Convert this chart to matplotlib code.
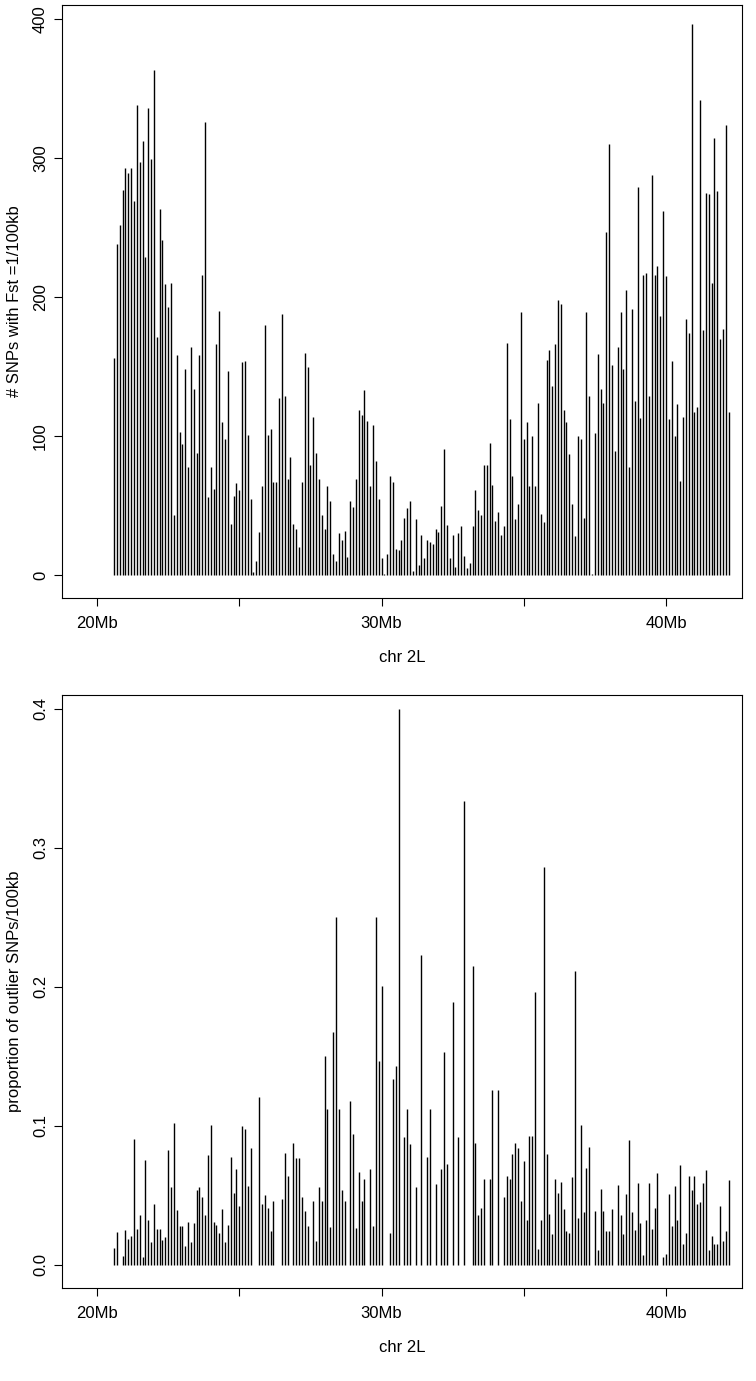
import numpy as np
import matplotlib
matplotlib.use("Agg")
import matplotlib.pyplot as plt

plt.rcParams['font.family'] = ['Liberation Sans', 'DejaVu Sans']

# bin start positions (Mb), 100kb bins along chr 2L
start_mb = 20.6
n_bins = 217

# top panel: number of SNPs with Fst = 1 per 100kb
snp_count = [
    156, 238, 252, 277, 293, 289, 293, 269, 338, 297, 312, 229, 336, 299, 363, 171, 263, 241, 209, 193,
    210, 43, 158, 103, 94, 148, 78, 164, 134, 88, 158, 216, 326, 56,
    78, 62, 166, 190, 110, 98, 147, 37, 57, 66, 61, 153, 154, 101, 55, 2, 10, 31, 64, 180,
    101, 105, 67, 67, 127, 188, 129, 69, 85, 37, 33, 20, 67, 160, 150, 79, 114,
    88, 69, 43, 33, 64, 53, 15, 10, 30, 25, 32, 13, 53, 49, 69, 119, 115, 133, 111,
    64, 108, 82, 55, 12, 1, 15, 71, 67, 19, 18, 25, 41, 48, 53, 3, 40, 7,
    29, 12, 25, 24, 22, 33, 31, 50, 91, 36, 12, 29, 6, 30, 35, 14, 5, 9, 35, 61,
    47, 43, 79, 79, 95, 65, 39, 45, 29, 35, 167, 112, 71, 40, 51, 189, 98,
    110, 64, 100, 64, 124, 44, 38, 155, 162, 136, 166, 198, 195, 119, 110, 87, 51, 28, 100, 98,
    41, 189, 129, 1, 102, 159, 134, 124, 247, 310, 151, 89, 164, 189, 148, 205, 78,
    191, 125, 279, 113, 216, 217, 129, 288, 216, 222, 186, 262, 215, 112, 154, 100, 123, 68, 114, 184,
    174, 396, 117, 121, 342, 176, 275, 274, 210, 314, 276, 170, 177, 324, 117,
]

# bottom panel: proportion of outlier SNPs per 100kb (nan = no bar)
nan = np.nan
outlier_prop = [
    0.012, 0.024, nan, 0.0066, 0.025, 0.019, 0.021, 0.0906, 0.026, 0.036,
    0.0055, 0.0755, 0.032, 0.0166, 0.0436, 0.026, 0.026, 0.0177, 0.020, 0.083,
    0.056, 0.102, 0.0396, 0.028, 0.028, 0.0135, 0.031, 0.0166, 0.030, 0.054,
    0.056, 0.049, 0.036, 0.079, 0.101, 0.031, 0.029, 0.0227, 0.040, 0.0166,
    0.029, 0.078, 0.052, 0.069, 0.0425, 0.0998, 0.098, 0.057, 0.084, nan,
    nan, 0.1206, 0.044, 0.050, 0.041, 0.0246, 0.046, nan, nan, 0.0475,
    0.0805, 0.064, nan, 0.088, 0.077, 0.077, 0.049, 0.0388, 0.0277, nan,
    0.046, 0.0172, 0.056, 0.046, 0.150, 0.112, 0.027, 0.1676, 0.250, 0.112,
    0.054, 0.046, nan, 0.118, 0.0945, 0.0264, 0.067, 0.046, 0.062, nan,
    0.069, 0.028, 0.250, 0.147, 0.201, nan, nan, 0.0227, 0.134, 0.143,
    0.400, nan, 0.092, 0.112, 0.087, nan, 0.056, nan, 0.223, nan,
    0.078, 0.112, nan, 0.058, nan, 0.069, 0.153, 0.0726, nan, 0.189,
    nan, 0.092, nan, 0.334, nan, nan, 0.215, 0.088, 0.0356, 0.041,
    0.062, nan, 0.062, 0.126, nan, 0.126, nan, 0.049, 0.064, 0.062,
    0.0795, 0.088, 0.084, 0.0457, 0.075, 0.0325, 0.093, 0.093, 0.196, 0.0114,
    0.032, 0.2865, 0.0795, 0.0364, 0.0224, 0.0615, 0.052, 0.0597, 0.040, 0.0246,
    0.0227, 0.0636, 0.2115, 0.0335, 0.101, 0.0378, 0.0694, 0.085, nan, 0.0388,
    0.0108, 0.0546, 0.0388, 0.0246, 0.0246, 0.040, nan, 0.0573, 0.0356, 0.022,
    0.051, 0.09, 0.0378, 0.0253, 0.059, 0.030, 0.0069, 0.032, 0.059, 0.026,
    0.041, 0.066, nan, 0.006, 0.008, 0.051, 0.0277, 0.0568, 0.032, 0.072,
    0.0153, 0.0227, 0.064, 0.0536, 0.064, 0.0436, 0.045, 0.059, 0.0686, 0.0108,
    0.021, 0.0153, 0.0153, 0.0425, 0.0172, 0.0246, 0.061,
]

xticks = [20, 25, 30, 35, 40]
xticklabels = ["20Mb", "", "30Mb", "", "40Mb"]
top_yticks = [0, 100, 200, 300, 400]
bottom_yticks = [0.0, 0.1, 0.2, 0.3, 0.4]

pos = start_mb + 0.1 * np.arange(n_bins)

W, H = 756, 1381
fig = plt.figure(figsize=(W / 100, H / 100), dpi=100)


def panel(top_px, values, yticks, ylabels, ylab, ylim):
    left, right = 62, 742
    bottom = top_px + 593
    ax = fig.add_axes([left / W, 1 - bottom / H, (right - left) / W, 593 / H])
    vals = np.asarray(values, dtype=float)
    ok = ~np.isnan(vals)
    ax.vlines(pos[ok], 0, vals[ok], color='black', linewidth=1.0)
    ax.set_xlim(18.77, 42.67)
    ax.set_ylim(*ylim)
    ax.set_xticks(xticks)
    ax.set_xticklabels(xticklabels)
    ax.set_yticks(yticks)
    ax.set_yticklabels(ylabels, rotation=90, va='center')
    ax.tick_params(direction='out', length=6, width=0.8, labelsize=12)
    ax.tick_params(axis='x', pad=7)
    ax.tick_params(axis='y', pad=4)
    for s in ax.spines.values():
        s.set_linewidth(0.8)
    ax.set_xlabel("chr 2L", fontsize=12, labelpad=14)
    ax.set_ylabel(ylab, fontsize=12, labelpad=8)
    return ax


panel(5, snp_count, top_yticks, ["0", "100", "200", "300", "400"],
      "# SNPs with Fst =1/100kb", (-16.5, 410))
panel(695, outlier_prop, bottom_yticks, ["0.0", "0.1", "0.2", "0.3", "0.4"],
      "proportion of outlier SNPs/100kb", (-0.0166, 0.41))

fig.savefig("out.png", dpi=100)
